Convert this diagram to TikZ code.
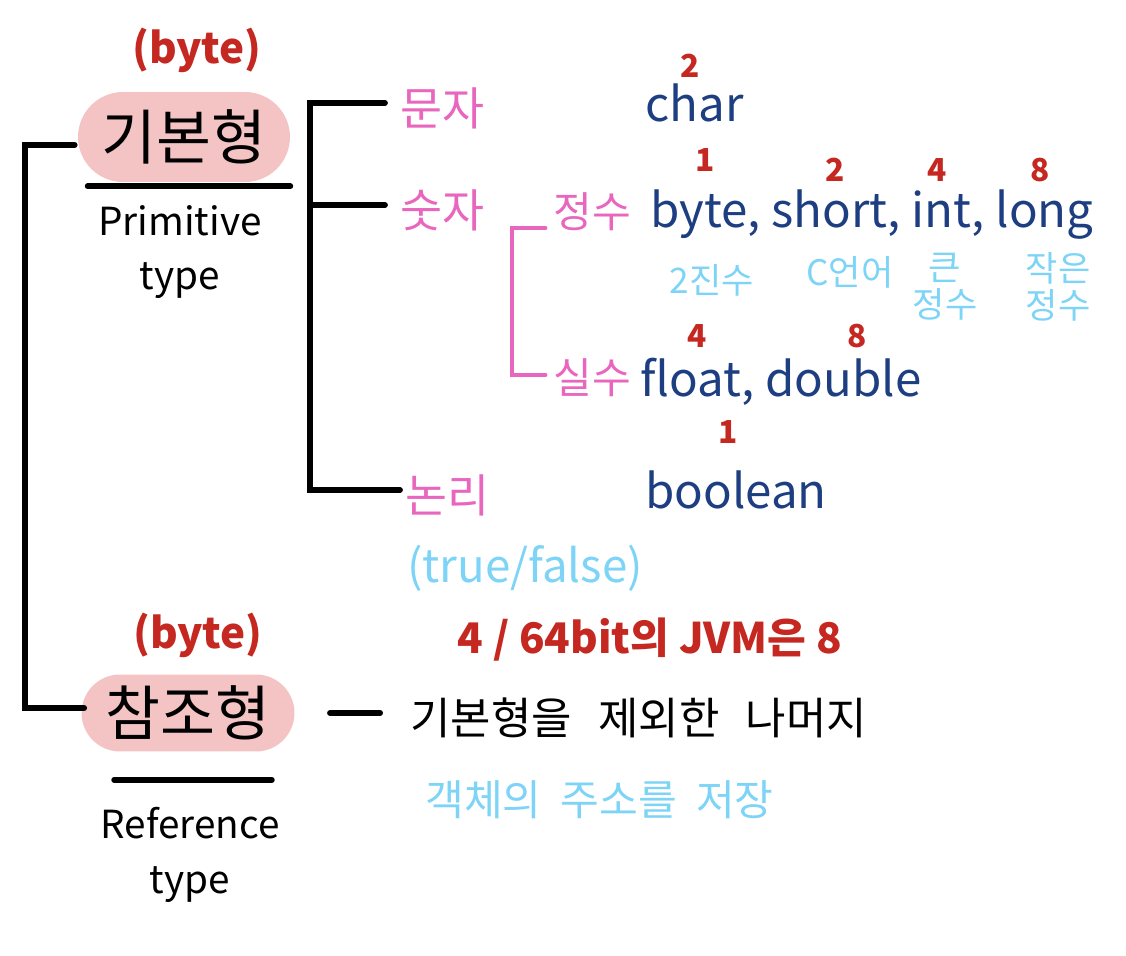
\documentclass[tikz,border=0pt]{standalone}
\usepackage{fontspec}
\setmainfont{Noto Sans CJK KR}
\usetikzlibrary{shapes.misc, positioning, calc}
\definecolor{pillpink}{RGB}{244,196,196}
\definecolor{kpink}{RGB}{232,102,190}
\definecolor{navy}{RGB}{30,62,130}
\definecolor{numred}{RGB}{196,40,32}
\definecolor{skyblue}{RGB}{125,212,246}
\tikzstyle{pill} = [rounded rectangle, fill=pillpink, inner sep=0pt, font=\fontsize{34}{36}\selectfont]
\tikzstyle{engname} = [align=center, font=\fontsize{22}{31}\selectfont]
\tikzstyle{kind} = [text=kpink, inner sep=0pt, font=\fontsize{26}{28}\selectfont]
\tikzstyle{subkind} = [text=kpink, inner sep=0pt, font=\fontsize{24}{26}\selectfont]
\tikzstyle{jtype} = [text=navy, inner sep=0pt, font=\fontsize{27}{29}\selectfont]
\tikzstyle{size} = [text=numred, inner sep=0pt, font=\bfseries\fontsize{18}{20}\selectfont]
\tikzstyle{note} = [text=skyblue, inner sep=0pt, align=center, font=\fontsize{20}{21}\selectfont]
\tikzstyle{blk} = [line width=3.3pt, line cap=round]
\tikzstyle{pinkline} = [line width=2.8pt, line cap=round, draw=kpink]

\begin{document}
\begin{tikzpicture}[x=0.02cm, y=-0.02cm]
    \useasboundingbox (0,0) rectangle (1126,956);

    % left column
    \node (kibon) [pill, minimum width=4.24cm, minimum height=1.8cm] at (184,137) {기본형};
    \node (kibonsz) [size, font=\bfseries\fontsize{24}{26}\selectfont] at (197,50) {(byte)};
    \node (prim) [engname] at (180,252) {Primitive\\type};
    \node (chamjo) [pill, minimum width=4.26cm, minimum height=1.54cm] at (188,713) {참조형};
    \node (chamjosz) [size, font=\bfseries\fontsize{24}{26}\selectfont] at (198,635) {(byte)};
    \node (refer) [engname] at (190,855) {Reference\\type};
    \draw [blk] ($(kibon.south -| kibon.west)+(10,4)$) -- ($(kibon.south -| kibon.east)+(0,4)$);
    \draw [blk] ($(chamjo.south -| chamjo.west)+(33,28)$) -- ($(chamjo.south -| chamjo.east)+(-23,28)$);

    % kinds of primitive
    \node (munja) [kind, anchor=west] at (400,108) {문자};
    \node (sutja) [kind, anchor=west] at (400,210) {숫자};
    \node (nonri) [kind, anchor=west] at (405,495) {논리};
    \node (tf) [note, font=\fontsize{26}{28}\selectfont] at (525,568) {(true/false)};
    \node (jeongsu) [subkind, anchor=west] at (553,212) {정수};
    \node (silsu) [subkind, anchor=west] at (553,378) {실수};

    % java types
    \node (char) [jtype, anchor=west] at (645,103) {char};
    \node (charsz) [size] at (690,66) {2};
    \node (ints) [jtype, anchor=west] at (650,215) {byte, short, int, long};
    \node (bytesz) [size] at (705,160) {1};
    \node (shortsz) [size] at (835,170) {2};
    \node (intsz) [size] at (937,170) {4};
    \node (longsz) [size] at (1040,170) {8};
    \node (bytenote) [note] at (712,280) {2진수};
    \node (shortnote) [note] at (850,272) {C언어};
    \node (intnote) [note] at (945,287) {큰\\정수};
    \node (longnote) [note] at (1058,287) {작은\\정수};
    \node (floats) [jtype, anchor=west] at (640,382) {float, double};
    \node (floatsz) [size] at (697,336) {4};
    \node (doublesz) [size] at (857,336) {8};
    \node (bool) [jtype, anchor=west] at (645,490) {boolean};
    \node (boolsz) [size] at (728,432) {1};

    % reference
    \node (refsz) [size, font=\bfseries\fontsize{24}{26}\selectfont] at (650,640) {4 / 64bit의 JVM은 8};
    \node (rest) [anchor=west, inner sep=0pt, font=\fontsize{25}{27}\selectfont] at (410,718) {기본형을\hspace{0.6em}제외한\hspace{0.6em}나머지};
    \node (restnote) [note, anchor=west, font=\fontsize{24}{26}\selectfont] at (425,800) {객체의\hspace{0.45em}주소를\hspace{0.45em}저장};

    % brackets
    \draw [blk] ($(kibon.west)+(-3,8)$) -- ++(-50,0) |- ($(chamjo.west)+(3,-5)$);
    \draw [blk] ($(munja.west)+(-15,-5)$) -- ++(-75,0) |- ($(nonri.west)+(-5,-5)$);
    \draw [blk] ($(sutja.west)+(-15,-5)$) -- ++(-75,0);
    \draw [pinkline] ($(jeongsu.west)+(-8,16)$) -- ++(-33,0) |- ($(silsu.west)+(-8,-3)$);
    \draw [blk, shorten <=20pt, shorten >=17pt] (chamjo.east) -- (chamjo.east -| rest.west);
\end{tikzpicture}
\end{document}
